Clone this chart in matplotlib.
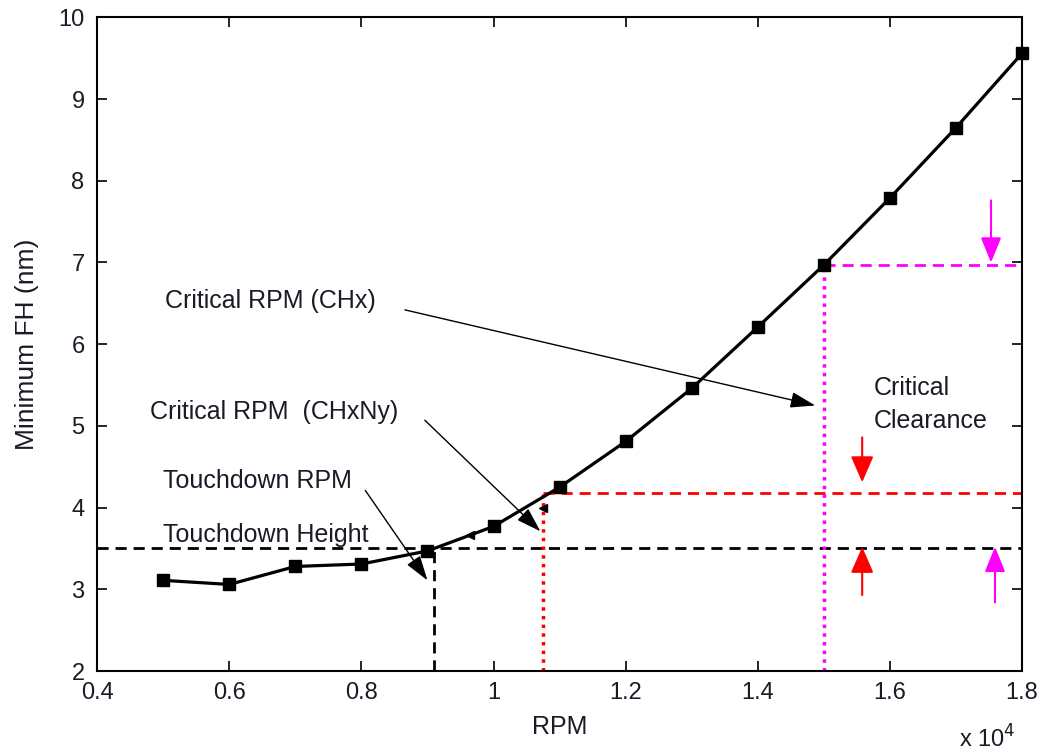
import matplotlib
matplotlib.use("Agg")
import matplotlib.pyplot as plt

plt.rcParams['font.family'] = ['Liberation Sans', 'DejaVu Sans']

# Data (RPM in units of 1e4)
rpm = [0.5, 0.6, 0.7, 0.8, 0.9, 1.0, 1.1, 1.2, 1.3, 1.4, 1.5, 1.6, 1.7, 1.8]
min_fh = [3.11, 3.06, 3.28, 3.31, 3.47, 3.77, 4.25, 4.81, 5.46, 6.21, 6.97, 7.79, 8.65, 9.56]

# small triangle marks on the curve
tri_x = [0.965, 1.075]
tri_y = [3.66, 3.99]

touchdown_height = 3.5
touchdown_rpm = 0.91
crit_rpm_chxny = 1.075
crit_fh_chxny = 4.18
crit_rpm_chx = 1.5
crit_fh_chx = 6.97

xticks = [0.4, 0.6, 0.8, 1.0, 1.2, 1.4, 1.6, 1.8]
xtick_labels = ['0.4', '0.6', '0.8', '1', '1.2', '1.4', '1.6', '1.8']
yticks = [2, 3, 4, 5, 6, 7, 8, 9, 10]

fig = plt.figure(figsize=(10.44, 7.54), dpi=100)
ax = fig.add_axes([0.093, 0.110, 0.886, 0.867])

ax.set_xlim(0.4, 1.8)
ax.set_ylim(2, 10)

# reference lines
dash = (0, (4, 2.5))
dot = (0, (1, 1.5))
ax.plot([0.4, 1.8], [touchdown_height, touchdown_height], color='black', ls=dash, lw=2)
ax.plot([touchdown_rpm, touchdown_rpm], [2, touchdown_height], color='black', ls=dash, lw=2)
ax.plot([crit_rpm_chxny, crit_rpm_chxny], [2, crit_fh_chxny], color='red', ls=dot, lw=2.5)
ax.plot([crit_rpm_chxny, 1.8], [crit_fh_chxny, crit_fh_chxny], color='red', ls=dash, lw=2)
ax.plot([crit_rpm_chx, crit_rpm_chx], [2, crit_fh_chx], color='#ff00ff', ls=dot, lw=2.5)
ax.plot([crit_rpm_chx, 1.8], [crit_fh_chx, crit_fh_chx], color='#ff00ff', ls=dash, lw=2)

# main curve
ax.plot(rpm, min_fh, color='black', lw=2.3, marker='s', ms=8.5, mfc='black', mec='black', clip_on=False, zorder=5)
ax.plot(tri_x, tri_y, ls='none', marker='<', ms=6, color='black', zorder=5)

# annotations
tfs = 18
tc = '#1c1a26'
arrow_k = dict(arrowstyle='-|>,head_length=1.1,head_width=0.35', color='black', lw=1, shrinkA=0, shrinkB=0, mutation_scale=14)
ax.text(0.503, 6.44, 'Critical RPM (CHx)', fontsize=tfs, color=tc, va='baseline', ha='left')
ax.annotate('', xy=(1.487, 5.25), xytext=(0.866, 6.42), arrowprops=arrow_k)
ax.text(0.48, 5.09, 'Critical RPM  (CHxNy)', fontsize=tfs, color=tc, va='baseline', ha='left')
ax.annotate('', xy=(1.071, 3.71), xytext=(0.896, 5.07), arrowprops=arrow_k)
ax.text(0.5, 4.24, 'Touchdown RPM', fontsize=tfs, color=tc, va='baseline', ha='left')
ax.annotate('', xy=(0.90, 3.11), xytext=(0.806, 4.21), arrowprops=arrow_k)
ax.text(0.5, 3.58, 'Touchdown Height', fontsize=tfs, color=tc, va='baseline', ha='left')
ax.text(1.576, 5.38, 'Critical', fontsize=tfs, color=tc, va='baseline', ha='left')
ax.text(1.576, 4.98, 'Clearance', fontsize=tfs, color=tc, va='baseline', ha='left')

arrow_r = dict(arrowstyle='-|>,head_length=1.15,head_width=0.5', color='red', lw=1.5, shrinkA=0, shrinkB=0, mutation_scale=14)
ax.annotate('', xy=(1.558, 4.31), xytext=(1.558, 4.86), arrowprops=arrow_r)
ax.annotate('', xy=(1.558, 3.52), xytext=(1.558, 2.93), arrowprops=arrow_r)
arrow_m = dict(arrowstyle='-|>,head_length=1.1,head_width=0.45', color='#ff00ff', lw=1.5, shrinkA=0, shrinkB=0, mutation_scale=14)
ax.annotate('', xy=(1.753, 7.0), xytext=(1.753, 7.76), arrowprops=arrow_m)
ax.annotate('', xy=(1.759, 3.52), xytext=(1.759, 2.84), arrowprops=arrow_m)

# axes styling
ax.set_xticks(xticks)
ax.set_xticklabels(xtick_labels)
ax.set_yticks(yticks)
ax.tick_params(direction='in', top=True, right=True, length=7, width=1.2, labelsize=17, colors='black', labelcolor=tc)
ax.tick_params(axis='y', pad=9)
ax.tick_params(axis='x', pad=8)
for s in ax.spines.values():
    s.set_linewidth(1.5)
ax.set_xlabel('RPM', fontsize=18, labelpad=8, color=tc)
ax.set_ylabel('Minimum FH (nm)', fontsize=19, labelpad=14, color=tc)
fig.text(0.919, 0.009, r'x 10$^4$', fontsize=17, ha='left', va='baseline', color=tc)

fig.savefig('out.png', dpi=100)
